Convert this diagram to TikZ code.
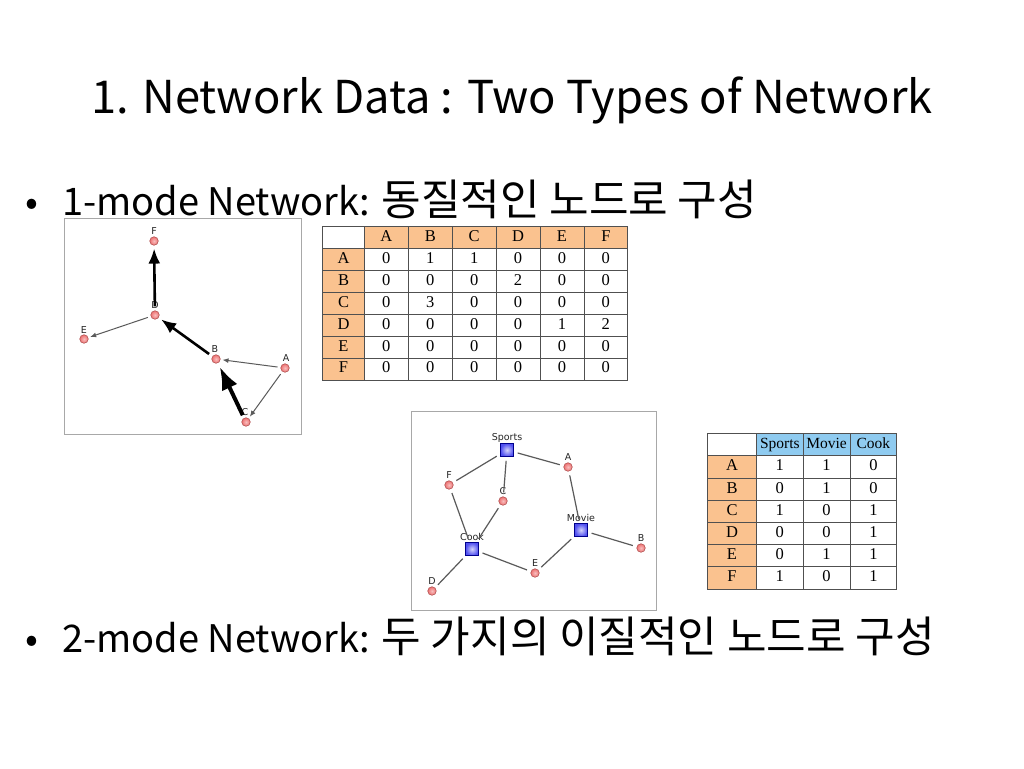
\documentclass[tikz,border=0pt]{standalone}
\usepackage{fontspec}
\setmainfont{Noto Sans CJK KR}
\newfontfamily\tabfont{Liberation Serif}
\newfontfamily\lblfont{DejaVu Sans}
\usetikzlibrary{arrows.meta,matrix}
\definecolor{hdrorange}{HTML}{FAC28F}
\definecolor{hdrblue}{HTML}{8FCBF0}
\definecolor{tabline}{HTML}{505050}
\definecolor{boxline}{HTML}{A8A8A8}
\definecolor{edgegray}{HTML}{5A5A5A}
\definecolor{nodered}{HTML}{EE7070}
\definecolor{nodeblue}{HTML}{5050F0}
\newcommand{\kr}[1]{{\fontsize{43}{43}\selectfont #1}}
\tikzset{
  rnode/.style={circle,inner sep=0pt,minimum size=8.5pt,draw=nodered!75!black,line width=0.6pt,inner color=white!55!nodered,outer color=nodered},
  bnode/.style={rectangle,inner sep=0pt,minimum size=13pt,draw=blue!55!black,line width=0.6pt,inner color=white!75!nodeblue,outer color=nodeblue},
  lbl/.style={font=\lblfont\fontsize{9.5}{9.5}\selectfont,text=black!85,inner sep=0pt},
  thin arc/.style={draw=edgegray,line width=1pt,-{Latex[length=6pt,width=5pt]},shorten >=2pt,shorten <=3pt},
  mid arc/.style={draw=black,line width=2.6pt,-{Latex[length=15pt,width=12pt]},shorten >=3pt,shorten <=4pt},
  big arc/.style={draw=black,line width=4pt,-{Latex[length=23pt,width=17pt]},shorten >=4pt,shorten <=3pt},
  uedge/.style={draw=edgegray,line width=1.2pt,shorten >=4pt,shorten <=4pt},
  bullet/.style={anchor=base west,inner sep=0pt,font=\fontsize{38}{38}\selectfont},
  framebox/.style={draw=boxline,line width=1pt,fill=white},
  cell/.style={draw=tabline,line width=0.8pt,inner sep=0pt,anchor=center,text height=11pt,text depth=3pt,font=\tabfont\fontsize{16.5}{16.5}\selectfont},
}
\begin{document}
\begin{tikzpicture}[x=1pt,y=-1pt]
\useasboundingbox[fill=white] (0,0) rectangle (1024,768);

% title
\node[anchor=base,inner sep=0pt,font=\fontsize{45.3}{45.3}\selectfont] (title) at (512,113) {1. Network Data : Two Types of Network};

% bullets
\node[bullet] (b1dot) at (25,215) {•};
\node[bullet] (b1) at (62,215) {1-mode Network: \kr{동질적인 노드로 구성}};
\node[bullet] (b2dot) at (25,652) {•};
\node[bullet] (b2) at (62,652) {2-mode Network: \kr{두 가지의 이질적인 노드로 구성}};

% ---------- 1-mode graph ----------
\node[framebox,anchor=north west,minimum width=237pt,minimum height=216pt,inner sep=0pt] (g1box) at (64,218) {};
\node[rnode] (F) at (154,241) {};
\node[rnode] (D) at (155,315) {};
\node[rnode] (E) at (84,339) {};
\node[rnode] (B) at (216,359) {};
\node[rnode] (A) at (285,368) {};
\node[rnode] (C) at (246,422) {};
\node[lbl] (Fl) at (154,231) {F};
\node[lbl] (Dl) at (155,305) {D};
\node[lbl] (El) at (84,330) {E};
\node[lbl] (Bl) at (215,349) {B};
\node[lbl] (Al) at (286,358) {A};
\node[lbl] (Cl) at (245,412) {C};
\draw[mid arc] (D) -- (F);
\draw[mid arc] (B) -- (D);
\draw[big arc] (C) -- (B);
\draw[thin arc] (A) -- (B);
\draw[thin arc] (A) -- (C);
\draw[thin arc] (D) -- (E);

% ---------- adjacency matrix ----------
\matrix[matrix of nodes,anchor=north west,inner sep=0pt,
  column sep=-0.8pt,row sep=-0.8pt,
  nodes={cell,minimum height=21.9pt,minimum width=43.9pt},
  column 1/.style={nodes={fill=hdrorange,minimum width=41.8pt}},
  row 1/.style={nodes={fill=hdrorange}}] (m1) at (322,226) {
  |[fill=white]| & A & B & C & D & E & F \\
  A & 0 & 1 & 1 & 0 & 0 & 0 \\
  B & 0 & 0 & 0 & 2 & 0 & 0 \\
  C & 0 & 3 & 0 & 0 & 0 & 0 \\
  D & 0 & 0 & 0 & 0 & 1 & 2 \\
  E & 0 & 0 & 0 & 0 & 0 & 0 \\
  F & 0 & 0 & 0 & 0 & 0 & 0 \\
};

% ---------- 2-mode graph ----------
\node[framebox,anchor=north west,minimum width=245pt,minimum height=199pt,inner sep=0pt] (g2box) at (411,411) {};
\node[bnode] (Sp) at (507,450) {};
\node[bnode] (Mo) at (581,530) {};
\node[bnode] (Co) at (472,549) {};
\node[rnode] (a2) at (568,467) {};
\node[rnode] (f2) at (449,485) {};
\node[rnode] (c2) at (503,501) {};
\node[rnode] (b2n) at (641,548) {};
\node[rnode] (e2) at (535,573) {};
\node[rnode] (d2) at (432,591) {};
\node[lbl] (Spl) at (507,438) {Sports};
\node[lbl] (Mol) at (581,518) {Movie};
\node[lbl] (Col) at (472,537) {Cook};
\node[lbl] (a2l) at (568,457) {A};
\node[lbl] (f2l) at (449,475) {F};
\node[lbl] (c2l) at (503,491) {C};
\node[lbl] (b2l) at (641,538) {B};
\node[lbl] (e2l) at (535,563) {E};
\node[lbl] (d2l) at (432,581) {D};
\draw[uedge] (Sp) -- (a2);
\draw[uedge] (Sp) -- (f2);
\draw[uedge] (Sp) -- (c2);
\draw[uedge] (a2) -- (Mo);
\draw[uedge] (f2) -- (Co);
\draw[uedge] (c2) -- (Co);
\draw[uedge] (Co) -- (d2);
\draw[uedge] (Co) -- (e2);
\draw[uedge] (e2) -- (Mo);
\draw[uedge] (Mo) -- (b2n);

% ---------- incidence matrix ----------
\matrix[matrix of nodes,anchor=north west,inner sep=0pt,
  column sep=-0.8pt,row sep=-0.8pt,
  nodes={cell,minimum height=22.2pt,minimum width=46.8pt},
  column 1/.style={nodes={fill=hdrorange,minimum width=48.8pt}},
  row 1/.style={nodes={fill=hdrblue,font=\tabfont\fontsize{15.5}{15.5}\selectfont}}] (m2) at (707,433) {
  |[fill=white]| & Sports & Movie & Cook \\
  A & 1 & 1 & 0 \\
  B & 0 & 1 & 0 \\
  C & 1 & 0 & 1 \\
  D & 0 & 0 & 1 \\
  E & 0 & 1 & 1 \\
  F & 1 & 0 & 1 \\
};
\end{tikzpicture}
\end{document}
